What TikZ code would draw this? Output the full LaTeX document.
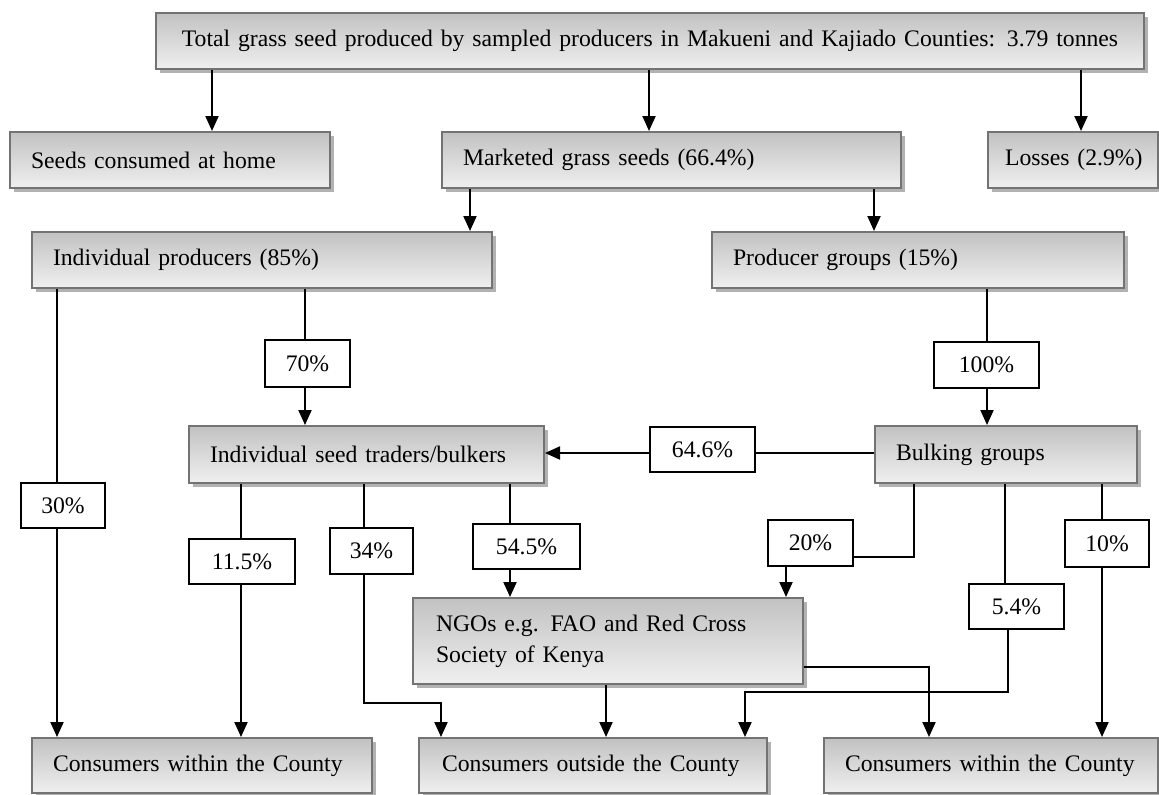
\documentclass[tikz,border=0pt]{standalone}
\usepackage{fontspec}
\setmainfont{Liberation Serif}
\usetikzlibrary{arrows.meta,shadows}
\begin{document}
\begin{tikzpicture}[x=0.5pt,y=-0.5pt,
  every node/.style={font=\fontsize{11.85}{15.5}\selectfont},
  mbox/.style={draw=black!55, line width=1pt, top color=black!24, bottom color=black!6,
    drop shadow={shadow xshift=2pt, shadow yshift=-2pt, fill=black!30, opacity=1},
    anchor=north west, inner xsep=10.5pt, inner ysep=0pt, align=left, minimum height=28pt},
  pbox/.style={draw=black, line width=1pt, fill=white, anchor=north west, inner sep=0pt,
    align=center},
  ln/.style={line width=1pt},
  arr/.style={line width=1pt, -{Triangle[length=7.5pt,width=6.5pt]}}
]
\useasboundingbox (0,0) rectangle (1159,794);

% helper positions for the connectors
\coordinate (xa) at (212,0);
\coordinate (xb) at (649,0);
\coordinate (xc) at (1081,0);
\coordinate (xd) at (470,0);
\coordinate (xe) at (874,0);
\coordinate (xf) at (57,0);
\coordinate (xg) at (305,0);
\coordinate (xh) at (987,0);
\coordinate (xi) at (241,0);
\coordinate (xj) at (364,0);
\coordinate (xk) at (441,0);
\coordinate (xl) at (510,0);
\coordinate (xn) at (786,0);
\coordinate (xo) at (1005,0);
\coordinate (xp) at (745,0);
\coordinate (xq) at (1102,0);
\coordinate (xr) at (606,0);
\coordinate (yr) at (0,453);
\coordinate (bend34) at (364,703);
\coordinate (bend20) at (914,557);
\coordinate (bend54) at (1008,692);
\coordinate (bendN) at (929,667);

% main boxes
\node[mbox, text width=473pt, align=center] (top) at (155,12)
  {Total grass seed produced by sampled producers in Makueni and Kajiado Counties: 3.79 tonnes};
\node[mbox, text width=139pt] (seeds) at (9,131) {Seeds consumed at home};
\node[mbox, text width=208.5pt] (market) at (441,131) {Marketed grass seeds (66.4\%)};
\node[mbox, text width=76pt, inner xsep=4.5pt] (loss) at (987,131) {\hspace*{4pt}Losses (2.9\%)};
\node[mbox, text width=209pt] (ip) at (31,231) {Individual producers (85\%)};
\node[mbox, text width=185pt] (pg) at (711,231) {Producer groups (15\%)};
\node[mbox, text width=156.5pt, minimum height=28.5pt] (ist) at (188,425) {Individual seed traders/bulkers};
\node[mbox, text width=110pt, minimum height=28.5pt] (bulk) at (874,425) {Bulking groups};
\node[mbox, text width=172pt, inner xsep=11.5pt, minimum height=43pt] (ngo) at (412,597)
  {NGOs e.g. FAO and Red Cross\\Society of Kenya};
\node[mbox, text width=149pt, minimum height=27.5pt] (b1) at (31,737) {Consumers within the County};
\node[mbox, text width=151pt, inner xsep=11.5pt, minimum height=27.5pt] (b2) at (418,737) {Consumers outside the County};
\node[mbox, text width=146pt, minimum height=27.5pt] (b3) at (823,737) {Consumers within the County};

% percentage labels
\node[pbox, minimum width=42pt, minimum height=22.5pt] (p30) at (20,482) {30\%};
\node[pbox, minimum width=42.5pt, minimum height=23.5pt] (p70) at (264,339) {70\%};
\node[pbox, minimum width=52.5pt, minimum height=23pt] (p100) at (933,341) {100\%};
\node[pbox, minimum width=52.5pt, minimum height=22.5pt] (p646) at (649,426) {64.6\%};
\node[pbox, minimum width=53pt, minimum height=22.5pt] (p115) at (188,538) {11.5\%};
\node[pbox, minimum width=41.5pt, minimum height=23pt] (p34) at (329,527) {34\%};
\node[pbox, minimum width=53.5pt, minimum height=22.5pt] (p545) at (472,523) {54.5\%};
\node[pbox, minimum width=42.5pt, minimum height=23pt] (p20) at (767,519) {20\%};
\node[pbox, minimum width=42pt, minimum height=23.5pt] (p10) at (1064,519) {10\%};
\node[pbox, minimum width=47.5pt, minimum height=22.5pt] (p54) at (968,583) {5.4\%};

% connectors
\draw[arr] (top.south -| xa) -- (seeds.north -| xa);
\draw[arr] (top.south -| xb) -- (market.north -| xb);
\draw[arr] (top.south -| xc) -- (loss.north -| xc);
\draw[arr] (market.south -| xd) -- (ip.north -| xd);
\draw[arr] (market.south -| xe) -- (pg.north -| xe);

\draw[ln] (ip.south -| xf) -- (p30.north -| xf);
\draw[arr] (p30.south -| xf) -- (b1.north -| xf);
\draw[ln] (ip.south -| xg) -- (p70.north -| xg);
\draw[arr] (p70.south -| xg) -- (ist.north -| xg);
\draw[ln] (pg.south -| xh) -- (p100.north -| xh);
\draw[arr] (p100.south -| xh) -- (bulk.north -| xh);

\draw[ln] (bulk.west |- yr) -- (p646.east |- yr);
\draw[arr] (p646.west |- yr) -- (ist.east |- yr);

\draw[ln] (ist.south -| xi) -- (p115.north -| xi);
\draw[arr] (p115.south -| xi) -- (b1.north -| xi);
\draw[ln] (ist.south -| xj) -- (p34.north -| xj);
\draw[arr] (p34.south -| bend34) -- (bend34) -| (b2.north -| xk);
\draw[ln] (ist.south -| xl) -- (p545.north -| xl);
\draw[arr] (p545.south -| xl) -- (ngo.north -| xl);

\draw[ln] (bulk.south -| bend20) -- (bend20) -- (p20.east |- bend20);
\draw[arr] (p20.south -| xn) -- (ngo.north -| xn);
\draw[ln] (bulk.south -| xo) -- (p54.north -| xo);
\draw[arr] (p54.south -| bend54) -- (bend54) -| (b2.north -| xp);
\draw[ln] (bulk.south -| xq) -- (p10.north -| xq);
\draw[arr] (p10.south -| xq) -- (b3.north -| xq);

\draw[arr] (ngo.south -| xr) -- (b2.north -| xr);
\draw[arr] (ngo.east |- bendN) -- (bendN) -- (b3.north -| bendN);
\end{tikzpicture}
\end{document}
